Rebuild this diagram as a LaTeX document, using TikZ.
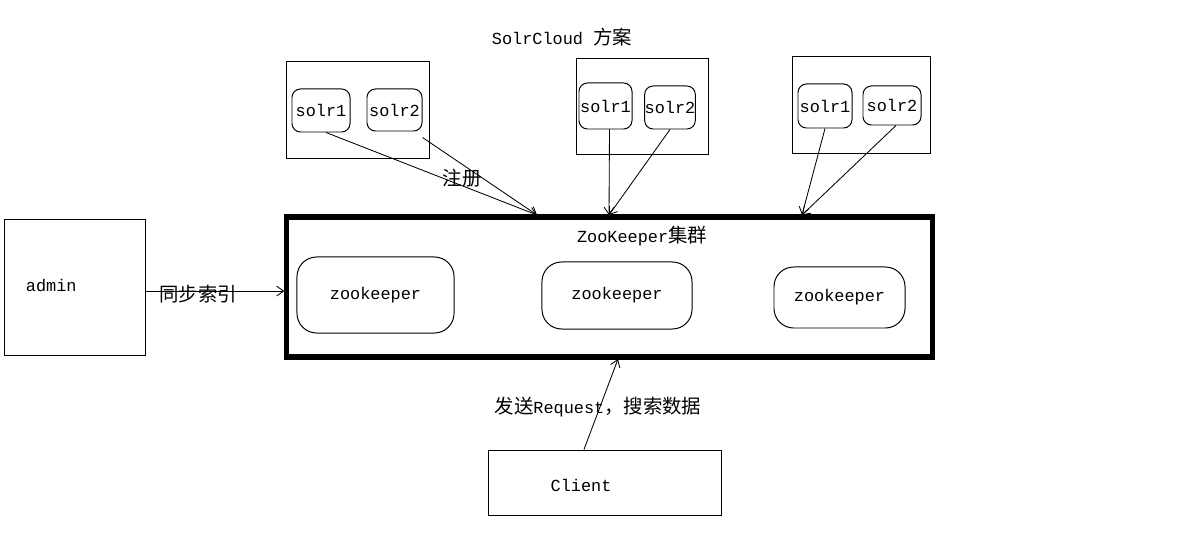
\documentclass[tikz,border=0pt]{standalone}
\usepackage{fontspec}
\setmainfont{Liberation Mono}
\newfontfamily\cjk{Noto Sans CJK SC}[Scale=1.15]
\usetikzlibrary{arrows.meta}

\begin{document}
\begin{tikzpicture}[x=0.025cm, y=-0.025cm, >={Straight Barb[length=5pt,width=7pt]},
  every node/.style={font=\fontsize{12}{14}\selectfont},
  box/.style={draw, line width=0.7pt, inner sep=0pt},
  solr/.style={box, rounded corners=6pt},
  zk/.style={box, rounded corners=14pt},
  link/.style={->, line width=0.6pt}]
\useasboundingbox (0,0) rectangle (1184,537);

% title
\node (title) at (562,37) {SolrCloud {\cjk 方案}};

% solr groups
\node[box, minimum width=3.55cm, minimum height=2.4cm] (grpA) at (358,110) {};
\node[solr, minimum width=1.45cm, minimum height=1.075cm] (solrA1) at (321,110.5) {solr1};
\node[solr, minimum width=1.375cm, minimum height=1.05cm] (solrA2) at (394.5,110) {solr2};

\node[box, minimum width=3.275cm, minimum height=2.375cm] (grpB) at (642.5,106.5) {};
\node[solr, minimum width=1.325cm, minimum height=1.15cm] (solrB1) at (605.5,106) {solr1};
\node[solr, minimum width=1.2cm, minimum height=1.075cm] (solrB2) at (670,107.5) {solr2};

\node[box, minimum width=3.425cm, minimum height=2.4cm] (grpC) at (861.5,105) {};
\node[solr, minimum width=1.35cm, minimum height=1.1cm] (solrC1) at (825,106) {solr1};
\node[solr, minimum width=1.45cm, minimum height=0.975cm] (solrC2) at (892,105.5) {solr2};

% zookeeper cluster
\node[draw, line width=3.6pt, minimum width=16.125cm, minimum height=3.5cm] (zkc) at (609.5,287) {};
\node (zkclbl) at (642,236) {ZooKeeper{\cjk 集群}};
\node[zk, minimum width=3.925cm, minimum height=1.9cm] (zk1) at (375.5,295) {zookeeper};
\node[zk, minimum width=3.75cm, minimum height=1.675cm] (zk2) at (617,295.5) {zookeeper};
\node[zk, minimum width=3.275cm, minimum height=1.525cm] (zk3) at (839.5,297.5) {zookeeper};

% register arrows
\coordinate (regA) at (537,215);
\coordinate (regB) at (609,215);
\coordinate (regC) at (802,215);
\draw[link] ([xshift=0.125cm]solrA1.south) -- (regA);
\draw[link] ([yshift=-0.15cm]solrA2.south east) -- (regA);
\node (reglbl) at (462,178) {\cjk 注册};
\draw[link] ([xshift=0.1cm]solrB1.south) -- (regB);
\draw[link] (solrB2.south) -- (regB);
\draw[link] (solrC1.south) -- (regC);
\draw[link] ([xshift=0.1cm]solrC2.south) -- (regC);

% admin
\node[box, minimum width=3.5cm, minimum height=3.375cm] (admin) at (75,287.5) {};
\node[anchor=west] (adminlbl) at (21,285) {admin};
\draw[link] ([yshift=-0.09cm]admin.east) -- ([yshift=-0.09cm]admin.east -| zkc.west);
\node (synclbl) at (198,294) {\cjk 同步索引};

% client
\node[box, minimum width=5.8cm, minimum height=1.625cm] (client) at (605,482.5) {};
\node (clientlbl) at (581,485) {Client};
\coordinate (req) at (618,359);
\draw[link] ([xshift=-0.525cm]client.north) -- (req);
\node (reqlbl) at (598,407) {{\cjk 发送}Request{\cjk ，搜索数据}};
\end{tikzpicture}
\end{document}
